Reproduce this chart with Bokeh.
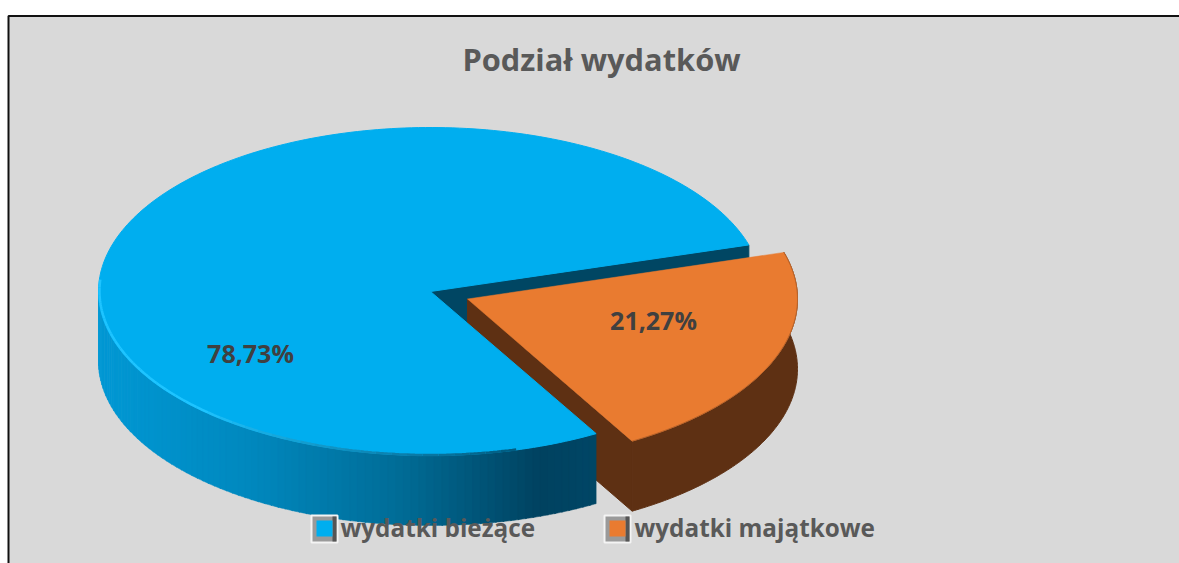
from math import cos, sin, radians
from bokeh.plotting import figure
from bokeh.models import Range1d
from bokeh.core.properties import value
from bokeh.embed import file_html
from bokeh.resources import INLINE

title = "Podział wydatków"
categories = ["wydatki bieżące", "wydatki majątkowe"]
shares = [78.73, 21.27]
share_labels = ["78,73%", "21,27%"]

TOP = ["#00AEEF", "#E97B30"]
CUT_BLUE = "#004663"
SIDE_ORANGE = "#5E3013"
RIM = (0x1E, 0xC4, 0xFF)
GRAY_TEXT = "#595959"
LABEL = "#404040"
FONT = value("Open Sans")

W, H = 1179, 563
p = figure(width=W, height=H, output_backend="svg", toolbar_location=None,
           x_range=Range1d(0, W), y_range=Range1d(H, 0),
           min_border=0, outline_line_color=None, background_fill_color="white",
           border_fill_color="white")
p.axis.visible = False
p.grid.visible = False

# panel: runs past the right and bottom edges of the picture
p.quad(left=8, right=W + 20, top=15.5, bottom=H + 20, fill_color="#D9D9D9",
       line_color="#111111", line_width=2)

CX, CY, RX, RY, DEPTH = 430, 291, 332, 164, 70
OCX, OCY, ORX = 467, 298.5, 330
START = 16.5
sweep_orange = shares[1] / sum(shares) * 360
sweep_blue = shares[0] / sum(shares) * 360


def pt(a, cx, cy, rx):
    return cx + rx * cos(radians(a)), cy - RY * sin(radians(a))


def arc(a0, a1, cx, cy, rx, n=160):
    pts = [pt(a0 + (a1 - a0) * i / n, cx, cy, rx) for i in range(n + 1)]
    return [q[0] for q in pts], [q[1] for q in pts]


def lerp(c0, c1, t):
    return "#%02X%02X%02X" % tuple(round(a + (b - a) * t) for a, b in zip(c0, c1))


# inner cut of the blue slice
bx, by = pt(START, CX, CY, RX)
p.patch([CX, bx, bx, CX], [CY, by, by + DEPTH, CY + DEPTH], color=CUT_BLUE)

# orange slice
o0, o1 = START, START - sweep_orange
ax, ay = arc(o0, o1, OCX, OCY, ORX)
p.patch(ax + ax[::-1], ay + [v + DEPTH for v in ay[::-1]], color=SIDE_ORANGE)
ex, ey = pt(o1, OCX, OCY, ORX)
p.patch([OCX, ex, ex, OCX], [OCY, ey, ey + DEPTH, OCY + DEPTH], color=SIDE_ORANGE)
p.patch([OCX] + ax, [OCY] + ay, color=TOP[1], line_color=TOP[1], line_width=0.5)
p.line(ax, ay, line_color="#B9632A", line_width=1)

# blue slice: wall drawn as shaded strips
b0, b1 = START, START + sweep_blue
wall_from, wall_to = 180, b1
N = 90
stops = [(0.0, (0x00, 0x98, 0xD4)), (0.3, (0x00, 0x88, 0xBE)), (0.6, (0x00, 0x6C, 0x96)),
         (0.88, (0x00, 0x42, 0x60)), (1.0, (0x00, 0x46, 0x66))]
for i in range(N):
    a0 = wall_from + (wall_to - wall_from) * i / N
    a1 = wall_from + (wall_to - wall_from) * (i + 1.15) / N
    xa, ya = arc(a0, min(a1, wall_to), CX, CY, RX, 4)
    xm = min(1.0, max(0.0, (xa[0] - 98) / (596 - 98)))
    col = "#004663"
    for j in range(len(stops) - 1):
        if stops[j][0] <= xm <= stops[j + 1][0]:
            col = lerp(stops[j][1], stops[j + 1][1],
                       (xm - stops[j][0]) / (stops[j + 1][0] - stops[j][0]))
            break
    p.patch(xa + xa[::-1], ya + [v + DEPTH for v in ya[::-1]], color=col, line_width=0.5)

bax, bay = arc(b0, b1, CX, CY, RX, 240)
p.patch([CX] + bax, [CY] + bay, color=TOP[0])

# bevel rim on the lower-left edge, fading out towards the front
SEG = 40
for i in range(SEG):
    a0 = 176 + (285 - 176) * i / SEG
    a1 = 176 + (285 - 176) * (i + 1) / SEG
    t = max(0.0, (i - SEG * 0.45) / (SEG * 0.55))
    rx_, ry_ = arc(a0, a1, CX, CY - 0.5, RX - 1, 4)
    p.line(rx_, ry_, line_color=lerp(RIM, (0x00, 0x58, 0x7C), t), line_width=2.5)

# value labels
p.text([250, 653], [352, 319], text=share_labels, text_font=FONT,
       text_font_style="bold", text_font_size="25px", text_color=LABEL,
       text_align="center", text_baseline="middle")

# title
p.text([601], [58], text=[title], text_font=FONT, text_font_style="bold",
       text_font_size="30.8px", text_color=GRAY_TEXT, text_align="center", text_baseline="middle")

# legend
for kx, col, name, tx in zip([324, 617], TOP, categories, [340, 634]):
    p.quad(left=kx - 13, right=kx + 13, top=515, bottom=542, fill_color="#9A9A9A",
           line_color="#F4F4F4", line_width=2)
    p.quad(left=kx + 8, right=kx + 12, top=516, bottom=541, fill_color="#555555", line_color=None)
    p.quad(left=kx - 8, right=kx + 8, top=520, bottom=536, fill_color=col, line_color=None)
    p.text([tx], [527], text=[name], text_font=FONT, text_font_style="bold",
           text_font_size="24.3px", text_color=GRAY_TEXT, text_align="left", text_baseline="middle")

open("out.html", "w").write(file_html(p, INLINE))
